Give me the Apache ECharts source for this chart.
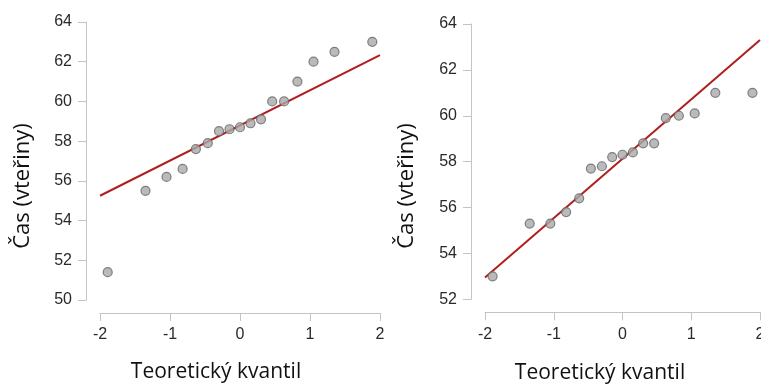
<!DOCTYPE html>
<html><head><meta charset="utf-8">
<script src="https://cdn.jsdelivr.net/npm/echarts@6/dist/echarts.min.js"></script>
<style>html,body{margin:0;padding:0;background:#fff}#c{width:761px;height:386px}</style>
</head><body><div id="c"></div>
<script>
// Theoretical quantiles
const quantiles = [-1.89, -1.35, -1.05, -0.82, -0.63, -0.46, -0.30, -0.15, 0, 0.15, 0.30, 0.46, 0.63, 0.82, 1.05, 1.35, 1.89];
// Left plot: sample values (seconds)
const leftValues = [51.4, 55.5, 56.2, 56.6, 57.6, 57.9, 58.5, 58.6, 58.7, 58.9, 59.1, 60.0, 60.0, 61.0, 62.0, 62.5, 63.0];
const leftLineX = [-2, 2];
const leftLineY = [55.25, 62.33];
// Right plot: sample values (seconds)
const rightValues = [53.0, 55.3, 55.3, 55.8, 56.4, 57.7, 57.8, 58.2, 58.3, 58.4, 58.8, 58.8, 59.9, 60.0, 60.1, 61.0, 61.0];
const rightLineX = [-2, 2];
const rightLineY = [52.95, 63.3];
const xTicks = {min: -2, max: 2, interval: 1};
const leftYTicks = {min: 50, max: 64, interval: 2};
const rightYTicks = {min: 52, max: 64, interval: 2};
const yTitle = 'Čas (vteřiny)';
const xTitle = 'Teoretický kvantil';

const axisTick = {show: true, length: 8, lineStyle: {color: '#c4c4c4', width: 1}};
const tickFont = {color: '#2a2a2a', fontFamily: 'Liberation Sans, Arial, sans-serif', fontSize: 16};

function xAx(i) {
  return {type: 'value', gridIndex: i, min: xTicks.min, max: xTicks.max, interval: xTicks.interval,
    offset: 13, axisLine: {show: true, onZero: false, lineStyle: {color: '#c4c4c4', width: 1}}, axisTick, splitLine: {show: false},
    axisLabel: Object.assign({margin: 14, hideOverlap: false}, tickFont)};
}
function yAx(i, t) {
  return {type: 'value', gridIndex: i, min: t.min, max: t.max, interval: t.interval,
    offset: 14, axisLine: {show: true, onZero: false, lineStyle: {color: '#c4c4c4', width: 1}}, axisTick, splitLine: {show: false},
    axisLabel: Object.assign({margin: 14}, tickFont)};
}
const pts = (vals) => quantiles.map((q, i) => [q, vals[i]]);
const ln = (xs, ys) => xs.map((x, i) => [x, ys[i]]);
const scatterStyle = {color: '#a9a9a9', borderColor: '#666', borderWidth: 1.2};
const lineStyle = {color: '#b01e1e', width: 2};

const chart = echarts.init(document.getElementById('c'), null, {renderer: 'canvas'});
chart.setOption({
  animation: false,
  grid: [
    {left: 100, top: 22, width: 280, height: 278, containLabel: false, outerBoundsMode: 'none'},
    {left: 485, top: 24, width: 275, height: 275.3, containLabel: false, outerBoundsMode: 'none'}
  ],
  xAxis: [xAx(0), xAx(1)],
  yAxis: [yAx(0, leftYTicks), yAx(1, rightYTicks)],
  series: [
    {type: 'line', xAxisIndex: 0, yAxisIndex: 0, data: ln(leftLineX, leftLineY), symbol: 'none', lineStyle, z: 1},
    {type: 'scatter', xAxisIndex: 0, yAxisIndex: 0, data: pts(leftValues), symbolSize: 9, itemStyle: scatterStyle, z: 2},
    {type: 'line', xAxisIndex: 1, yAxisIndex: 1, data: ln(rightLineX, rightLineY), symbol: 'none', lineStyle, z: 1},
    {type: 'scatter', xAxisIndex: 1, yAxisIndex: 1, data: pts(rightValues), symbolSize: 9, itemStyle: scatterStyle, z: 2}
  ],
  graphic: [
    {type: 'text', x: 23, y: 186, rotation: Math.PI / 2, style: {text: yTitle, fontFamily: 'Open Sans', fontSize: 22, fill: '#111', align: 'center', verticalAlign: 'middle'}},
    {type: 'text', x: 407, y: 186, rotation: Math.PI / 2, style: {text: yTitle, fontFamily: 'Open Sans', fontSize: 22, fill: '#111', align: 'center', verticalAlign: 'middle'}},
    {type: 'text', x: 216, y: 372, style: {text: xTitle, fontFamily: 'Open Sans', fontSize: 21, fill: '#111', align: 'center', verticalAlign: 'middle'}},
    {type: 'text', x: 600, y: 373, style: {text: xTitle, fontFamily: 'Open Sans', fontSize: 21, fill: '#111', align: 'center', verticalAlign: 'middle'}}
  ]
});
</script></body></html>
